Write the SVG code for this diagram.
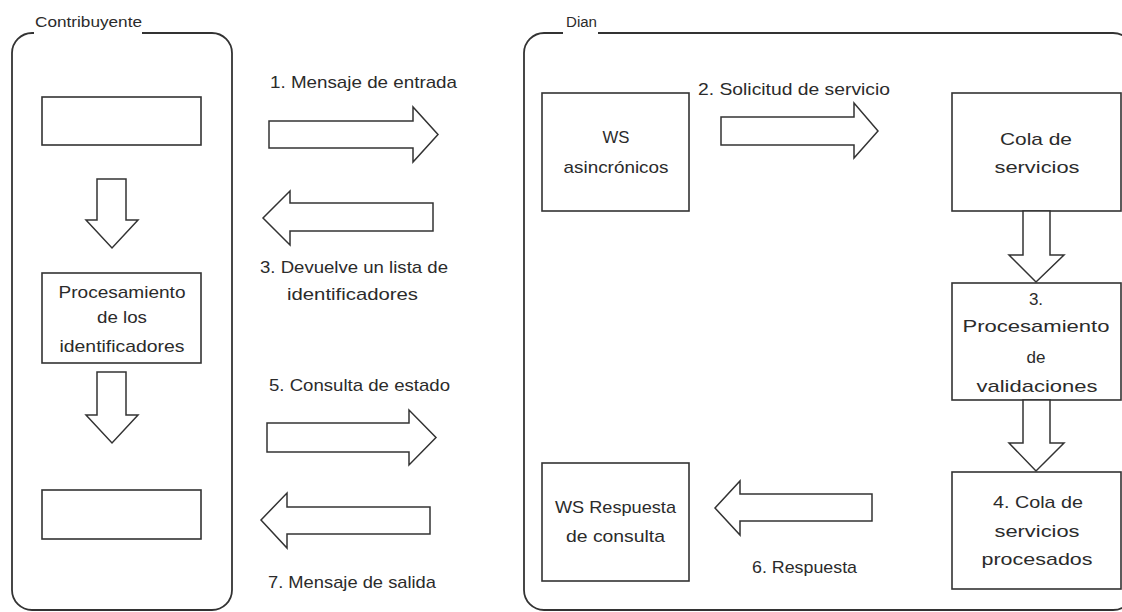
<svg xmlns="http://www.w3.org/2000/svg" width="1122" height="612" viewBox="0 0 1122 612">
<style>
.frame{fill:none;stroke:#333;stroke-width:1.8}
.box{fill:#fff;stroke:#333;stroke-width:1.6}
.arr{fill:#fff;stroke:#333;stroke-width:1.5;stroke-linejoin:miter}
text{font-family:"Liberation Sans",Arial,sans-serif;fill:#2b2b2b;text-anchor:middle}
.lbl{font-size:17px}
.grp{font-size:14px}
.bt{font-size:17px}
</style>
<rect width="1122" height="612" fill="#fff"/>
<g id="contribuyente">
<path class="frame" d="M142 33 H212 A20 20 0 0 1 232 53 V590 A20 20 0 0 1 212 610 H32 A20 20 0 0 1 12 590 V53 A20 20 0 0 1 32 33 H34"/>
<text class="grp" x="88.5" y="27" textLength="107" lengthAdjust="spacingAndGlyphs">Contribuyente</text>
</g>
<g id="dian">
<path class="frame" d="M598 33 H1113 A20 20 0 0 1 1133 53 V590 A20 20 0 0 1 1113 610 H544 A20 20 0 0 1 524 590 V53 A20 20 0 0 1 544 33 H563"/>
<text class="grp" x="581.5" y="27" textLength="31" lengthAdjust="spacingAndGlyphs">Dian</text>
</g>
<g id="box-entrada">
<rect class="box" x="42" y="97" width="159" height="48"/>
</g>
<g id="box-procesamiento-ids">
<rect class="box" x="42" y="273" width="159" height="90"/>
<text class="bt" x="122" y="298" textLength="127" lengthAdjust="spacingAndGlyphs">Procesamiento</text>
<text class="bt" x="122" y="323" textLength="50" lengthAdjust="spacingAndGlyphs">de los</text>
<text class="bt" x="122" y="352" textLength="125" lengthAdjust="spacingAndGlyphs">identificadores</text>
</g>
<g id="box-salida">
<rect class="box" x="42" y="490" width="159" height="49"/>
</g>
<g id="ws-asincronicos">
<rect class="box" x="542" y="93" width="147" height="118"/>
<text class="bt" x="616" y="143" textLength="27" lengthAdjust="spacingAndGlyphs">WS</text>
<text class="bt" x="616" y="173" textLength="105" lengthAdjust="spacingAndGlyphs">asincrónicos</text>
</g>
<g id="cola-servicios">
<rect class="box" x="952" y="93" width="169" height="118"/>
<text class="bt" x="1036" y="145" textLength="72" lengthAdjust="spacingAndGlyphs">Cola de</text>
<text class="bt" x="1037" y="173" textLength="85" lengthAdjust="spacingAndGlyphs">servicios</text>
</g>
<g id="procesamiento-validaciones">
<rect class="box" x="952" y="283" width="169" height="117"/>
<text class="bt" x="1036" y="305">3.</text>
<text class="bt" x="1036" y="332" textLength="147" lengthAdjust="spacingAndGlyphs">Procesamiento</text>
<text class="bt" x="1036" y="363">de</text>
<text class="bt" x="1037" y="392" textLength="121" lengthAdjust="spacingAndGlyphs">validaciones</text>
</g>
<g id="cola-procesados">
<rect class="box" x="952" y="472" width="169" height="117"/>
<text class="bt" x="1038" y="508" textLength="90" lengthAdjust="spacingAndGlyphs">4. Cola de</text>
<text class="bt" x="1037" y="537" textLength="85" lengthAdjust="spacingAndGlyphs">servicios</text>
<text class="bt" x="1037" y="565" textLength="111" lengthAdjust="spacingAndGlyphs">procesados</text>
</g>
<g id="ws-respuesta">
<rect class="box" x="542" y="463" width="147" height="118"/>
<text class="bt" x="615.5" y="513" textLength="121" lengthAdjust="spacingAndGlyphs">WS Respuesta</text>
<text class="bt" x="615.5" y="542" textLength="99" lengthAdjust="spacingAndGlyphs">de consulta</text>
</g>
<g id="connectors">
<polygon class="arr" points="97,179 126,179 126,220 138,220 112,248 86,220 97,220"/>
<polygon class="arr" points="97,372 126,372 126,415 138,415 112,443 86,415 97,415"/>
<polygon class="arr" points="1023,211 1050,211 1050,255 1064,255 1036,282 1009,255 1023,255"/>
<polygon class="arr" points="1023,400 1050,400 1050,443 1064,443 1036,471 1009,443 1023,443"/>
<polygon class="arr" points="269,121 413,121 413,107 438,134.5 413,162 413,148 269,148"/>
<polygon class="arr" points="433,203 290,203 290,191 263,218 290,245 290,231 433,231"/>
<polygon class="arr" points="267,423 409,423 409,410 436,437.5 409,465 409,452 267,452"/>
<polygon class="arr" points="430,507 287,507 287,493 261,520 287,548 287,534 430,534"/>
<polygon class="arr" points="721,117 854,117 854,103 878,131 854,158 854,145 721,145"/>
<polygon class="arr" points="872,494 740,494 740,481 715,508 740,535 740,521 872,521"/>
<text class="lbl" x="363.5" y="88" textLength="187" lengthAdjust="spacingAndGlyphs">1. Mensaje de entrada</text>
<text class="lbl" x="354" y="273" textLength="188" lengthAdjust="spacingAndGlyphs">3. Devuelve un lista de</text>
<text class="lbl" x="352.5" y="300" textLength="131" lengthAdjust="spacingAndGlyphs">identificadores</text>
<text class="lbl" x="359.5" y="391" textLength="181" lengthAdjust="spacingAndGlyphs">5. Consulta de estado</text>
<text class="lbl" x="352" y="588" textLength="168" lengthAdjust="spacingAndGlyphs">7. Mensaje de salida</text>
<text class="lbl" x="794" y="95" textLength="192" lengthAdjust="spacingAndGlyphs">2. Solicitud de servicio</text>
<text class="lbl" x="804.5" y="573" textLength="105" lengthAdjust="spacingAndGlyphs">6. Respuesta</text>
</g>
</svg>
